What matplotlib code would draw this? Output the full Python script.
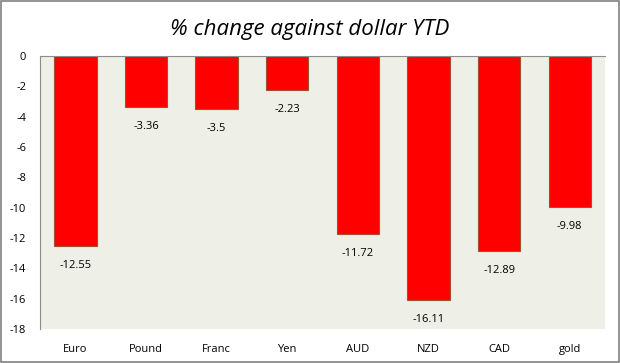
import numpy as np
import matplotlib.pyplot as plt

# data
categories = ["Euro", "Pound", "Franc", "Yen", "AUD", "NZD", "CAD", "gold"]
values = [-12.55, -3.36, -3.5, -2.23, -11.72, -16.11, -12.89, -9.98]
labels = ["-12.55", "-3.36", "-3.5", "-2.23", "-11.72", "-16.11", "-12.89", "-9.98"]

plt.rcParams['font.family'] = ['Open Sans', 'DejaVu Sans']

fig = plt.figure(figsize=(6.2, 3.63), dpi=100)
fig.patch.set_facecolor('white')
ax = fig.add_axes([40 / 620, 1 - 329 / 363, 565 / 620, 273 / 363])
ax.set_facecolor('#eef0e8')

x = np.arange(len(categories))
bars = ax.bar(x, values, width=0.6, color='#ff0000', edgecolor='#a0522d', linewidth=0.8, zorder=2)

for b, v, lab in zip(bars, values, labels):
    ax.annotate(lab, (b.get_x() + b.get_width() / 2, v), xytext=(0, -14),
                textcoords='offset points', ha='center', va='center', fontsize=8)

ax.set_xlim(-0.5, len(categories) - 0.5)
ax.set_ylim(-18, 0)
ax.set_yticks(np.arange(-18, 1, 2))
ax.set_yticklabels([str(t) for t in np.arange(-18, 1, 2)])
ax.set_xticks(x)
ax.set_xticklabels(categories)
ax.tick_params(axis='both', length=0, labelsize=8)
ax.tick_params(axis='x', pad=11)
ax.tick_params(axis='y', pad=10)

for s in ['right', 'bottom']:
    ax.spines[s].set_visible(False)
ax.spines['top'].set_color('#8c8c8c')
ax.spines['left'].set_color('#8c8c8c')

fig.text(0.5, 1 - 29 / 363, "% change against dollar YTD", ha='center', va='center',
         fontsize=16, style='italic')

# outer border
fig.add_artist(plt.Rectangle((0.001, 0.002), 0.997, 0.996, transform=fig.transFigure,
                             fill=False, edgecolor='#808080', linewidth=1.2))

fig.savefig("out.png", dpi=100)
